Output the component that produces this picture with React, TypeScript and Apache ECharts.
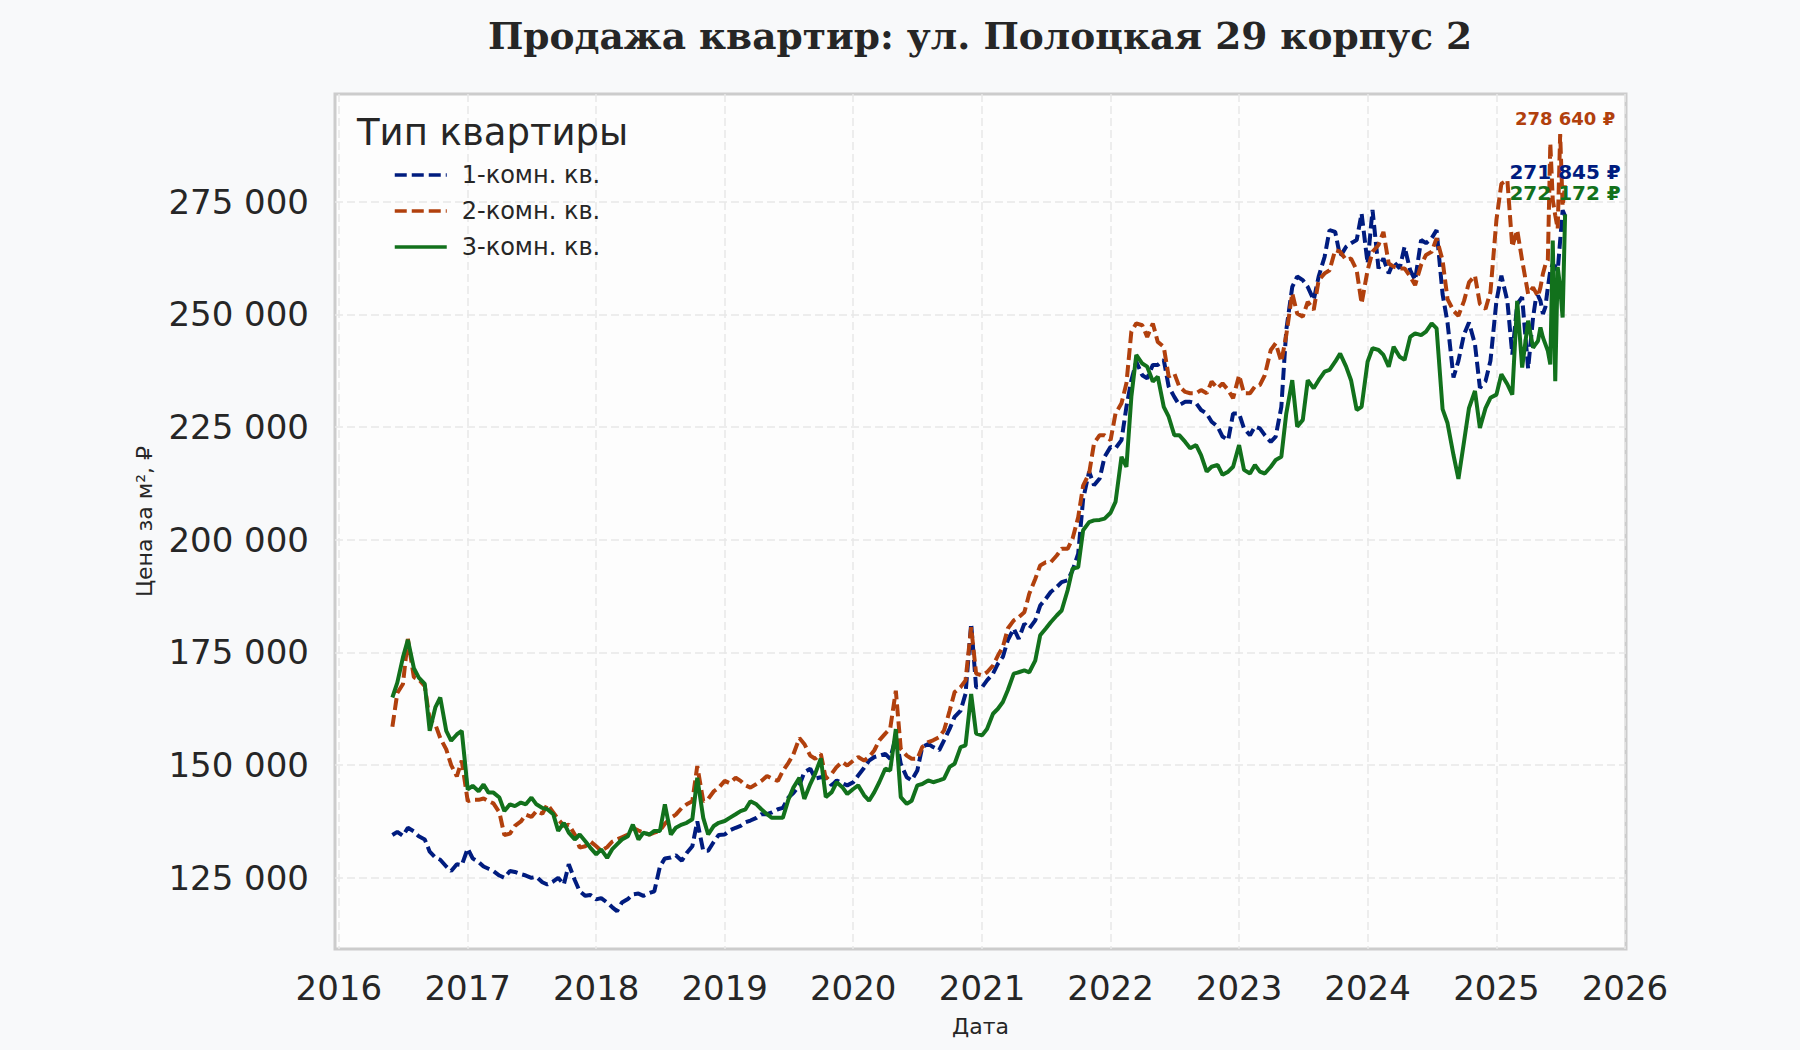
import React, { useEffect, useRef } from 'react';
import * as echarts from 'echarts';

// даты выборки: 1-е и 15-е число месяца, в конце ряда — еженедельно
const semiMonthly = (year: number, fromMonth: number, toMonth: number) => {
  const out: string[] = [];
  for (let m = fromMonth; m <= toMonth; m++) {
    const mm = String(m).padStart(2, '0');
    out.push(`${year}-${mm}-01`, `${year}-${mm}-15`);
  }
  return out;
};

const weeklyTail2025 = [
  '2025-04-22', '2025-04-29', '2025-05-06', '2025-05-13', '2025-05-20', '2025-05-27',
  '2025-06-03', '2025-06-10', '2025-06-17', '2025-06-24', '2025-07-01', '2025-07-08', '2025-07-15',
];

const dates = [
  ...semiMonthly(2016, 6, 12),
  ...[2017, 2018, 2019, 2020, 2021, 2022, 2023, 2024].flatMap((y) => semiMonthly(y, 1, 12)),
  ...semiMonthly(2025, 1, 4),
  ...weeklyTail2025,
];

// цены, тыс. ₽ за м²
const room1 = [
  // 2016
  134.5, 135.2, 134.3, 136.1, 135.3, 134.2, 133.5, 130.8, 129.5, 129.0, 127.5, 126.5, 128.0, 127.8,
  // 2017
  131.5, 129.3, 128.5, 127.5, 127.0, 126.5, 125.5, 125.0, 126.5, 126.3, 125.8, 125.5,
  125.0, 125.2, 124.0, 123.5, 124.2, 125.0, 123.5, 128.0, 124.5, 122.0, 121.0, 121.2,
  // 2018
  120.2, 120.5, 119.5, 118.5, 117.6, 119.5, 120.3, 121.3, 121.5, 121.0, 121.6, 122.0,
  127.5, 129.3, 129.5, 130.0, 128.8, 130.5, 132.0, 137.5, 131.0, 131.0, 133.0, 134.5,
  // 2019
  134.6, 135.5, 136.1, 136.5, 137.3, 137.7, 138.3, 139.1, 139.1, 139.5, 140.2, 140.5,
  142.8, 143.8, 145.5, 148.4, 149.2, 147.0, 147.3, 147.3, 145.5, 146.6, 146.0, 145.5,
  // 2020
  146.2, 147.7, 149.4, 151.0, 151.8, 152.1, 152.5, 151.4, 156.2, 150.3, 147.3, 146.6,
  148.8, 154.0, 154.7, 154.0, 153.3, 155.5, 158.1, 160.7, 162.1, 165.8, 181.4, 167.3,
  // 2021
  167.3, 168.8, 170.3, 172.5, 174.0, 177.7, 180.3, 178.0, 181.4, 180.3, 182.1, 185.4,
  186.9, 188.4, 189.5, 190.6, 191.0, 193.2, 196.9, 209.0, 215.1, 212.1, 213.6, 218.4,
  // 2022
  220.6, 220.3, 222.1, 229.5, 235.4, 239.5, 236.5, 235.8, 238.8, 238.8, 239.9, 234.0,
  231.7, 229.9, 230.6, 230.6, 230.3, 228.8, 228.0, 226.2, 225.1, 222.9, 222.1, 228.0,
  // 2023
  228.0, 224.7, 223.2, 225.1, 224.7, 223.2, 221.7, 222.9, 229.5, 246.5, 256.1, 258.4,
  257.6, 256.1, 253.2, 258.4, 262.8, 268.7, 268.3, 262.8, 265.0, 265.8, 266.5, 272.4,
  // 2024
  261.3, 273.2, 260.2, 262.4, 259.1, 261.7, 260.2, 265.0, 259.8, 257.6, 266.5, 265.8,
  266.9, 268.7, 254.5, 248.2, 236.0, 239.7, 245.6, 248.2, 243.4, 233.7, 235.2, 239.7,
  // 2025
  253.0, 258.6, 253.0, 241.1, 252.3, 253.8, 238.0, 249.3,
  253.0, 254.2, 253.0, 250.1, 251.6, 256.0, 259.7, 261.2, 260.5, 259.7, 266.4, 273.1, 271.845,
];

const room2 = [
  // 2016
  158.5, 166.0, 168.0, 178.0, 169.5, 169.0, 167.5, 160.0, 159.0, 156.0, 153.5, 150.0, 147.5, 151.0,
  // 2017
  142.0, 142.3, 142.3, 142.6, 142.0, 141.5, 139.5, 134.5, 134.8, 136.5, 137.5, 139.0,
  138.5, 139.8, 139.2, 141.3, 139.5, 138.0, 136.5, 136.8, 134.6, 131.7, 132.0, 133.1,
  // 2018
  132.0, 131.0, 131.8, 133.0, 133.5, 134.0, 134.6, 136.1, 135.5, 135.0, 134.6, 135.0,
  135.5, 137.0, 138.3, 139.0, 140.5, 141.3, 142.0, 149.8, 142.0, 142.5, 144.2, 145.0,
  // 2019
  146.5, 146.0, 147.2, 146.5, 145.5, 145.0, 145.8, 146.5, 147.6, 147.0, 146.5, 148.7,
  150.5, 152.4, 156.0, 154.7, 152.1, 151.4, 152.5, 147.0, 148.1, 149.6, 150.7, 149.9,
  // 2020
  151.0, 151.8, 151.0, 151.8, 153.3, 155.5, 157.0, 158.1, 166.5, 153.6, 152.1, 151.4,
  151.4, 154.0, 155.1, 155.5, 156.2, 157.7, 162.1, 166.2, 167.3, 168.8, 180.6, 170.3,
  // 2021
  169.9, 170.6, 172.1, 174.3, 176.2, 180.3, 182.1, 182.8, 183.9, 188.0, 191.3, 194.3,
  195.0, 195.0, 196.5, 198.0, 198.0, 200.2, 205.0, 212.0, 214.7, 221.4, 223.2, 223.2,
  // 2022
  222.1, 228.0, 230.3, 234.7, 246.2, 248.0, 247.6, 245.0, 248.0, 243.9, 242.8, 236.2,
  236.9, 234.0, 232.8, 232.5, 232.5, 233.2, 232.5, 235.1, 233.6, 234.7, 233.2, 231.4,
  // 2023
  236.5, 232.5, 232.5, 234.0, 234.3, 236.5, 242.1, 243.6, 239.5, 245.4, 254.7, 250.2,
  249.5, 252.8, 251.0, 257.6, 259.1, 259.8, 264.3, 263.9, 262.1, 262.4, 259.8, 252.4,
  // 2024
  259.8, 263.9, 265.4, 268.3, 261.3, 260.6, 260.2, 260.2, 258.4, 256.5, 261.0, 263.2,
  263.9, 266.9, 262.0, 253.4, 250.8, 249.7, 253.0, 257.1, 258.6, 252.3, 251.2, 255.0,
  // 2025
  271.0, 279.0, 279.8, 265.0, 268.7, 262.0, 254.5, 256.0,
  255.0, 254.0, 256.0, 259.0, 261.0, 262.0, 288.0, 275.4, 272.0, 269.0, 290.0, 274.0, 278.64,
];

const room3 = [
  // 2016
  165.0, 168.3, 173.9, 177.8, 171.5, 169.4, 168.0, 157.6, 162.8, 165.0, 157.6, 155.4, 156.8, 157.6,
  // 2017
  144.6, 145.4, 144.2, 145.7, 143.9, 143.9, 142.8, 139.8, 141.3, 140.9, 141.7, 141.3,
  142.8, 141.3, 140.5, 140.2, 139.1, 135.4, 137.2, 135.0, 133.5, 134.6, 133.1, 131.7,
  // 2018
  130.2, 131.3, 129.4, 131.3, 132.4, 133.5, 134.2, 136.8, 133.5, 135.0, 134.6, 135.4,
  135.4, 141.3, 134.6, 136.1, 136.8, 137.2, 138.0, 147.2, 138.3, 134.6, 136.5, 137.2,
  // 2019
  137.6, 138.3, 139.1, 139.8, 140.2, 142.0, 141.3, 140.2, 139.1, 138.3, 138.3, 138.3,
  142.4, 145.0, 147.2, 142.5, 145.8, 148.1, 151.5, 142.9, 144.0, 146.2, 145.1, 143.6,
  // 2020
  144.7, 145.5, 143.3, 142.1, 144.0, 146.2, 149.2, 148.8, 158.0, 142.9, 141.4, 142.1,
  145.5, 145.8, 146.6, 146.2, 146.6, 147.0, 149.6, 150.3, 154.0, 154.4, 165.8, 157.0,
  // 2021
  156.6, 158.0, 161.4, 162.5, 164.0, 166.6, 170.3, 170.6, 171.0, 170.6, 173.2, 178.8,
  180.3, 181.7, 183.2, 184.3, 188.8, 193.6, 193.9, 202.1, 203.9, 204.3, 204.4, 204.7,
  // 2022
  206.0, 208.4, 218.4, 216.2, 231.7, 241.0, 239.1, 238.4, 235.1, 236.2, 229.5, 227.3,
  223.2, 223.2, 221.7, 220.3, 221.0, 218.8, 215.1, 216.2, 216.6, 214.4, 215.1, 216.2,
  // 2023
  221.0, 215.5, 214.7, 216.6, 215.1, 214.7, 216.2, 217.7, 218.4, 228.0, 235.4, 225.1,
  226.6, 235.4, 233.6, 235.4, 237.3, 237.7, 239.5, 241.3, 238.4, 235.4, 228.8, 229.5,
  // 2024
  239.5, 242.5, 242.1, 241.0, 238.4, 242.8, 240.6, 239.9, 245.0, 245.8, 245.4, 246.2,
  248.0, 246.9, 229.0, 225.9, 218.8, 213.5, 221.8, 229.2, 233.0, 224.8, 229.2, 231.5,
  // 2025
  232.2, 236.7, 234.5, 232.2, 253.0, 238.2, 248.6, 242.6,
  243.4, 244.1, 247.1, 244.9, 243.4, 241.9, 238.9, 266.4, 235.2, 260.5, 256.0, 249.3, 272.172,
];

const yearTicks = [2016, 2017, 2018, 2019, 2020, 2021, 2022, 2023, 2024, 2025, 2026];
const priceTicks = [125000, 150000, 175000, 200000, 225000, 250000, 275000];

const TEXT = '#262626';
const FONT = 'DejaVu Sans';

const fmt = (v: number) => String(Math.round(v)).replace(/\B(?=(\d{3})+(?!\d))/g, ' ');
const ts = (d: string) => Date.parse(d + 'T00:00:00Z');

const seriesDefs = [
  { name: '1-комн. кв.', values: room1, color: '#001c7f', dashed: true, labelSize: 20, labelLift: 44 },
  { name: '2-комн. кв.', values: room2, color: '#b1400d', dashed: true, labelSize: 18, labelLift: 67 },
  { name: '3-комн. кв.', values: room3, color: '#12711c', dashed: false, labelSize: 20, labelLift: 21 },
];

const App: React.FC = () => {
  const chartRef = useRef<HTMLDivElement>(null);

  useEffect(() => {
    if (!chartRef.current) return;
    document.body.style.margin = '0';

    const chart = echarts.init(chartRef.current, undefined, { renderer: 'svg' });

    const series = seriesDefs.map((s) => {
      const last = s.values.length - 1;
      return {
        name: s.name,
        type: 'line',
        data: dates.map((d, i) => [ts(d), Math.round(s.values[i] * 1000)]),
        showSymbol: false,
        symbol: 'none',
        lineStyle: { width: 4, color: s.color, type: s.dashed ? [12, 5] : 'solid' },
        itemStyle: { color: s.color },
        markPoint: {
          symbol: 'circle',
          symbolSize: 1,
          itemStyle: { color: 'rgba(0,0,0,0)' },
          data: [{ coord: [ts(dates[last]), Math.round(s.values[last] * 1000)] }],
          label: {
            show: true,
            position: 'inside',
            offset: [0, -s.labelLift],
            formatter: () => `${fmt(s.values[last] * 1000)} ₽`,
            color: s.color,
            fontWeight: 'bold',
            fontSize: s.labelSize,
            lineHeight: s.labelSize,
            fontFamily: FONT,
          },
        },
      };
    });

    const yearValues = yearTicks.map((y) => Date.UTC(y, 0, 1));

    const option = {
      animation: false,
      backgroundColor: '#f8f9fa',
      graphic: [
        {
          type: 'text',
          x: 980,
          y: 36,
          style: {
            text: 'Продажа квартир: ул. Полоцкая 29 корпус 2',
            font: 'bold 37.5px "DejaVu Serif"',
            fill: TEXT,
            textAlign: 'center',
            textVerticalAlign: 'middle',
          },
        },
        {
          type: 'text',
          x: 357,
          y: 132,
          z: 100,
          style: {
            text: 'Тип квартиры',
            font: `37px "${FONT}"`,
            fill: TEXT,
            textAlign: 'left',
            textVerticalAlign: 'middle',
          },
        },
      ],
      legend: {
        orient: 'vertical',
        left: 388,
        top: 158,
        itemWidth: 52,
        itemHeight: 24,
        itemGap: 12,
        data: seriesDefs.map((s) => s.name),
        itemStyle: { opacity: 0 },
        lineStyle: { width: 3.5 },
        textStyle: { fontSize: 24, color: TEXT, fontFamily: FONT, padding: [0, 0, 0, 10] },
      },
      grid: {
        left: 335,
        right: 174,
        top: 94,
        bottom: 101,
        show: true,
        backgroundColor: '#fdfdfd',
        borderColor: '#cccccc',
        borderWidth: 3,
      },
      xAxis: {
        type: 'value',
        min: Date.UTC(2015, 11, 21),
        max: Date.UTC(2026, 0, 4),
        name: 'Дата',
        nameLocation: 'middle',
        nameGap: 66,
        nameTextStyle: { fontSize: 22, color: TEXT, fontFamily: FONT },
        axisLine: { show: false },
        axisTick: { show: false, customValues: yearValues },
        axisLabel: {
          customValues: yearValues,
          formatter: (v: number) => String(new Date(v).getUTCFullYear()),
          fontSize: 34,
          color: TEXT,
          fontFamily: FONT,
          margin: 22,
        },
        splitLine: { show: true, lineStyle: { color: '#e8e8e8', width: 1.5, type: [8, 4] } },
      },
      yAxis: {
        type: 'value',
        min: 109200,
        max: 298900,
        name: 'Цена за м², ₽',
        nameLocation: 'middle',
        nameGap: 180,
        nameTextStyle: { fontSize: 22, color: TEXT, fontFamily: FONT },
        axisLine: { show: false },
        axisTick: { show: false, customValues: priceTicks },
        axisLabel: {
          customValues: priceTicks,
          formatter: (v: number) => fmt(v),
          fontSize: 34,
          color: TEXT,
          fontFamily: FONT,
          margin: 26,
        },
        splitLine: { show: true, lineStyle: { color: '#e8e8e8', width: 1.5, type: [8, 4] } },
      },
      series,
    };

    chart.setOption(option as any);

    return () => {
      chart.dispose();
    };
  }, []);

  return <div ref={chartRef} style={{ width: '1800px', height: '1050px' }} />;
};

export default App;
